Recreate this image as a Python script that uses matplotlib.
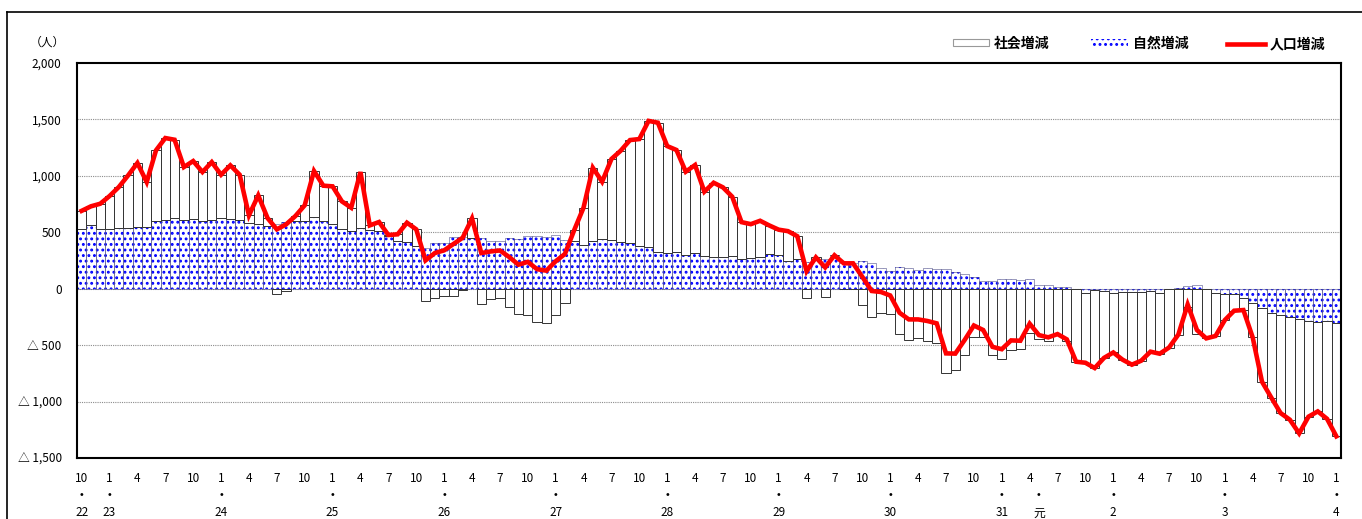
import matplotlib
matplotlib.use("Agg")
import matplotlib.pyplot as plt
from matplotlib.patches import Rectangle
from matplotlib.lines import Line2D
import numpy as np

plt.rcParams['font.family'] = ['Noto Sans CJK JP', 'DejaVu Sans']
plt.rcParams['hatch.linewidth'] = 1.3

# ---------------- DATA ----------------
# Monthly, Heisei 22 (2010) Oct  ->  Reiwa 4 (2022) Jan  (136 months)
natural = [532, 561, 532, 526, 538, 538, 546, 546, 600, 611, 626, 611,
           620, 600, 611, 626, 617, 611, 585, 573, 552, 570, 594, 600,
           600, 635, 603, 573, 529, 514, 538, 523, 511, 470, 425, 417,
           381, 357, 402, 402, 458, 462, 452, 452, 425, 425, 446, 440,
           470, 470, 461, 476, 431, 425, 390, 419, 440, 434, 411, 408,
           375, 366, 328, 313, 328, 295, 313, 287, 280, 278, 292, 260,
           275, 278, 310, 301, 250, 265, 237, 254, 260, 295, 230, 228,
           248, 230, 186, 160, 189, 180, 165, 180, 171, 171, 145, 130,
           100, 65, 71, 83, 83, 77, 83, 32, 30, 12, 12, -3,
           -41, -12, -18, -35, -30, -30, -27, -24, -35, -3, 3, 24,
           32, -3, -41, -47, -47, -86, -130, -174, -219, -233, -254, -272,
           -284, -292, -284, -307]
social = [158, 169, 221, 295, 363, 466, 568, 399, 626, 724, 694, 467,
          511, 434, 511, 384, 476, 399, 65, 254, 74, -44, -24, 44,
          139, 408, 310, 334, 245, 204, 496, 38, 80, 6, 57, 168,
          145, -106, -86, -62, -62, -10, 171, -136, -95, -86, -165, -227,
          -232, -297, -301, -233, -123, 95, 328, 653, 508, 715, 812, 909,
          951, 1121, 1143, 951, 901, 742, 783, 573, 659, 620, 523, 330,
          297, 324, 250, 222, 260, 200, -82, 24, -71, 1, -5, -3,
          -143, -250, -215, -220, -402, -452, -437, -466, -478, -744, -720, -585,
          -426, -431, -586, -619, -541, -538, -393, -443, -461, -414, -461, -644,
          -615, -691, -595, -530, -599, -643, -611, -534, -541, -518, -409, -164,
          -398, -437, -378, -231, -148, -103, -302, -650, -746, -869, -907, -1010,
          -850, -795, -869, -1001]
months = [10, 11, 12] + [1, 2, 3, 4, 5, 6, 7, 8, 9, 10, 11, 12] * 11 + [1]
year_marks = {0: "22", 3: "23", 15: "24", 27: "25", 39: "26", 51: "27",
              63: "28", 75: "29", 87: "30", 99: "31", 103: "元",
              111: "2", 123: "3", 135: "4"}
yticks = [2000, 1500, 1000, 500, 0, -500, -1000, -1500]
ytick_labels = ["2,000", "1,500", "1,000", "500", "0", "△ 500", "△ 1,000", "△ 1,500"]
legend_labels = ["社会増減", "自然増減", "人口増減"]
unit_label = "（人）"
# --------------------------------------

natural = np.array(natural, float)
social = np.array(social, float)
total = natural + social
n = len(natural)
x = np.arange(n)

W, H = 1362, 519
fig = plt.figure(figsize=(W / 100, H / 100), dpi=100)

def fx(px):
    return px / W

def fy(py):
    return 1 - py / H

# outer frame
fig.add_artist(Line2D([fx(7), fx(7)], [fy(12), 0], color='black', lw=1.2))
fig.add_artist(Line2D([fx(7), 1], [fy(12), fy(12)], color='black', lw=1.2))

ax = fig.add_axes([fx(77), fy(458), (1341 - 77) / W, (458 - 63) / H])
ax.set_xlim(-0.5, n - 0.5)
ax.set_ylim(-1500, 2000)

for g in [1500, 1000, 500, 0, -500, -1000]:
    ax.axhline(g, color='#8c8c8c', lw=0.8, ls=(0, (1, 1)), zorder=0)

# natural bars (blue dotted)
ax.bar(x, natural, width=1.0, bottom=0, facecolor='white', edgecolor='#0000ff',
       hatch='...', linewidth=0, zorder=2)
ax.bar(x, natural, width=1.0, bottom=0, facecolor='none', edgecolor='#50508a',
       linewidth=0.4, zorder=2)

# social bars, stacked on natural when same sign
soc_bottom = np.where(np.sign(social) == np.sign(natural), natural, 0.0)
ax.bar(x, social, width=1.0, bottom=soc_bottom, facecolor='white',
       edgecolor='#333333', linewidth=0.7, zorder=3)

ax.plot(x, total, color='#ff0000', lw=3.3, zorder=5, solid_joinstyle='miter')

for s in ax.spines.values():
    s.set_linewidth(1.5)
    s.set_color('black')
    s.set_zorder(6)

ax.set_yticks(yticks)
ax.set_yticklabels(ytick_labels, fontsize=8.5)
ax.tick_params(axis='y', length=0, pad=11)
ax.set_xticks([])

tr = ax.get_xaxis_transform()
def ay(py):
    return (458 - py) / 395

for i in range(n):
    if i % 3 == 0:
        ax.text(i, ay(478), str(months[i]), transform=tr, ha='center',
                va='center', fontsize=8.5)
for i, lab in year_marks.items():
    ax.text(i, ay(495), "・", transform=tr, ha='center', va='center', fontsize=8.5,
            fontweight='bold')
    ax.text(i, ay(513), lab, transform=tr, ha='center', va='center', fontsize=8.5)

fig.text(fx(47), fy(42), unit_label, ha='center', va='center', fontsize=8.5)

# legend
fig.add_artist(Rectangle((fx(953), fy(46)), fx(36), 7 / H, facecolor='white',
                         edgecolor='#999999', lw=0.8))
fig.text(fx(994), fy(44), legend_labels[0], ha='left', va='center', fontsize=10,
         fontweight='bold')
fig.add_artist(Rectangle((fx(1091), fy(46)), fx(37), 7 / H, facecolor='white',
                         edgecolor='#0000ff', hatch='...', lw=0))
fig.text(fx(1133), fy(44), legend_labels[1], ha='left', va='center', fontsize=10,
         fontweight='bold')
fig.add_artist(Line2D([fx(1227), fx(1265)], [fy(44), fy(44)], color='#ff0000', lw=3.3))
fig.text(fx(1270), fy(44), legend_labels[2], ha='left', va='center', fontsize=10,
         fontweight='bold')

fig.savefig("out.png", dpi=100)
